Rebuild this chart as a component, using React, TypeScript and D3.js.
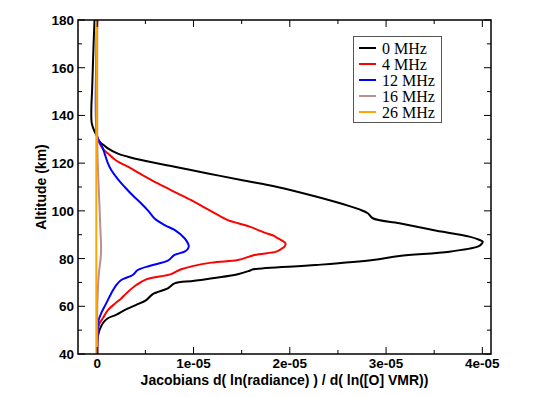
import React, { useEffect, useRef } from 'react';
import * as d3 from 'd3';

// altitudes (km) and jacobian values (units of 1e-5)
const black0Alt = [180, 170, 160, 150, 145, 140, 137, 135, 133, 131.5, 130, 129, 128.3, 127.5, 126.2, 124, 122.7, 121.3, 118.5, 115.7, 112.9, 110, 106, 102, 100.6, 99, 96.9, 94.8, 92, 89.2, 88, 87.1, 86, 85, 82.9, 81.1, 79.4, 77.3, 75.5, 74.9, 73.4, 70.7, 69.6, 67.5, 65.1, 62.6, 60.5, 58.4, 56.5, 55, 52.9, 50.1, 47.3, 45, 40];
const black0Val = [-0.028, -0.038, -0.046, -0.054, -0.06, -0.062, -0.058, -0.045, -0.025, -0.005, 0.008, 0.024, 0.04, 0.07, 0.11, 0.214, 0.318, 0.457, 0.803, 1.149, 1.495, 1.87, 2.27, 2.62, 2.724, 2.81, 2.862, 3.139, 3.485, 3.866, 3.96, 4.004, 3.99, 3.952, 3.658, 3.139, 2.862, 2.274, 1.62, 1.582, 1.46, 1.01, 0.803, 0.733, 0.577, 0.509, 0.4, 0.283, 0.2, 0.11, 0.058, 0.024, 0.006, 0.002, 0];

const red4Alt = [180, 131, 128.3, 126, 124.1, 121, 118.5, 115, 111.5, 108, 104.5, 101, 97.5, 96.1, 93.4, 91, 89.4, 88.9, 87.5, 86.4, 85, 84, 82.9, 81.5, 79.4, 78.3, 75.5, 73.5, 71.3, 68.9, 65.4, 63.3, 61, 58.4, 55, 52.9, 50.1, 45, 40];
const red4Val = [0, 0, 0.024, 0.06, 0.11, 0.2, 0.318, 0.47, 0.629, 0.8, 0.976, 1.13, 1.288, 1.356, 1.582, 1.73, 1.841, 1.859, 1.92, 1.955, 1.945, 1.91, 1.859, 1.633, 1.46, 1.184, 0.872, 0.768, 0.509, 0.405, 0.301, 0.249, 0.18, 0.11, 0.058, 0.024, 0.006, 0, 0];

const blue12Alt = [180, 131, 129, 127, 124.1, 120, 117.1, 113, 110.1, 106, 103.1, 100, 96.8, 94, 92, 88.5, 86.5, 85.3, 84, 82.9, 81.5, 79.1, 77, 75.2, 73.1, 71, 68.9, 65.4, 61.2, 57.1, 54.2, 51.4, 45, 40];
const blue12Val = [0, 0, 0.024, 0.05, 0.076, 0.11, 0.145, 0.22, 0.283, 0.38, 0.457, 0.53, 0.595, 0.7, 0.803, 0.907, 0.94, 0.951, 0.94, 0.907, 0.803, 0.733, 0.55, 0.42, 0.369, 0.249, 0.197, 0.145, 0.093, 0.041, 0.014, 0.006, 0, 0];

const brown16Alt = [180, 130, 120, 110, 100, 90, 85, 80, 75, 70, 65, 60, 40];
const brown16Val = [0, 0, 0.005, 0.015, 0.025, 0.035, 0.04, 0.035, 0.02, 0.01, 0.005, 0, 0];

const orange26Alt = [180, 40];
const orange26Val = [-0.01, -0.01];

const legendLabels = ['0 MHz', '4 MHz', '12 MHz', '16 MHz', '26 MHz'];
const legendColors = ['#000000', '#ff0000', '#0000ff', '#bc8f8f', '#ffa500'];

const xTicks = [0, 1e-5, 2e-5, 3e-5, 4e-5];
const xTickLabels = ['0', '1e-05', '2e-05', '3e-05', '4e-05'];
const yTicks = [40, 60, 80, 100, 120, 140, 160, 180];

export default function App() {
  const ref = useRef<SVGSVGElement>(null);

  useEffect(() => {
    const svg = d3.select(ref.current);
    svg.selectAll('*').remove();

    const left = 78, right = 491, top = 20, bottom = 354;
    const x = d3.scaleLinear().domain([-0.2e-5, 4.09e-5]).range([left, right]);
    const y = d3.scaleLinear().domain([40, 180]).range([bottom, top]);

    const series = [
      { alt: black0Alt, val: black0Val },
      { alt: red4Alt, val: red4Val },
      { alt: blue12Alt, val: blue12Val },
      { alt: brown16Alt, val: brown16Val },
      { alt: orange26Alt, val: orange26Val },
    ];

    const line = d3.line<[number, number]>()
      .x(d => x(d[1] * 1e-5))
      .y(d => y(d[0]))
      .curve(d3.curveCatmullRom.alpha(0.5));

    const clip = svg.append('defs').append('clipPath').attr('id', 'plotclip');
    clip.append('rect').attr('x', left).attr('y', top).attr('width', right - left).attr('height', bottom - top);

    const g = svg.append('g').attr('clip-path', 'url(#plotclip)');
    series.forEach((s, i) => {
      const pts = s.alt.map((a, j) => [a, s.val[j]] as [number, number]);
      g.append('path')
        .attr('d', line(pts))
        .attr('fill', 'none')
        .attr('stroke', legendColors[i])
        .attr('stroke-width', 2)
        .attr('stroke-linejoin', 'round');
    });

    // frame
    svg.append('rect')
      .attr('x', left).attr('y', top)
      .attr('width', right - left).attr('height', bottom - top)
      .attr('fill', 'none').attr('stroke', '#000').attr('stroke-width', 1.5);

    const ticks = svg.append('g').attr('stroke', '#000').attr('stroke-width', 1);
    const xMinor = d3.range(0, 4.01e-5, 0.5e-5);
    xMinor.forEach((v, i) => {
      const len = i % 2 === 0 ? 7 : 4;
      const px = x(v);
      ticks.append('line').attr('x1', px).attr('x2', px).attr('y1', bottom).attr('y2', bottom - len);
      ticks.append('line').attr('x1', px).attr('x2', px).attr('y1', top).attr('y2', top + len);
    });
    d3.range(40, 181, 10).forEach(v => {
      const len = v % 20 === 0 ? 7 : 4;
      const py = y(v);
      ticks.append('line').attr('x1', left).attr('x2', left + len).attr('y1', py).attr('y2', py);
      ticks.append('line').attr('x1', right).attr('x2', right - len).attr('y1', py).attr('y2', py);
    });

    const labelFont = '"Liberation Sans", Arial, Helvetica, sans-serif';
    svg.append('g').selectAll('text').data(xTicks).join('text')
      .attr('x', d => x(d)).attr('y', 368)
      .attr('text-anchor', 'middle')
      .attr('font-family', labelFont).attr('font-weight', 'bold').attr('font-size', 13.5)
      .text((d, i) => xTickLabels[i]);

    svg.append('g').selectAll('text').data(yTicks).join('text')
      .attr('x', 74).attr('y', d => y(d) + 5)
      .attr('text-anchor', 'end')
      .attr('font-family', labelFont).attr('font-weight', 'bold').attr('font-size', 13.5)
      .text(d => String(d));

    svg.append('text')
      .attr('x', (left + right) / 2).attr('y', 385)
      .attr('text-anchor', 'middle')
      .attr('font-family', labelFont).attr('font-weight', 'bold').attr('font-size', 14)
      .text('Jacobians d( ln(radiance) ) / d( ln([O] VMR))');

    svg.append('text')
      .attr('transform', `translate(46,${(top + bottom) / 2}) rotate(-90)`)
      .attr('text-anchor', 'middle')
      .attr('font-family', labelFont).attr('font-weight', 'bold').attr('font-size', 14)
      .text('Altitude (km)');

    // legend
    const lg = svg.append('g');
    lg.append('rect')
      .attr('x', 353.5).attr('y', 36.5).attr('width', 88).attr('height', 86)
      .attr('fill', '#fff').attr('stroke', '#555').attr('stroke-width', 1);
    legendLabels.forEach((lab, i) => {
      const ly = 48 + i * 16;
      lg.append('line')
        .attr('x1', 359).attr('x2', 376).attr('y1', ly).attr('y2', ly)
        .attr('stroke', legendColors[i]).attr('stroke-width', 2);
      lg.append('text')
        .attr('x', 382).attr('y', ly + 5.5)
        .attr('font-family', '"Liberation Serif", "Times New Roman", serif')
        .attr('font-size', 16)
        .text(lab);
    });
  }, []);

  return (
    <svg ref={ref} width={560} height={397}
      style={{ position: 'absolute', left: 0, top: 0, background: '#fff' }} />
  );
}
